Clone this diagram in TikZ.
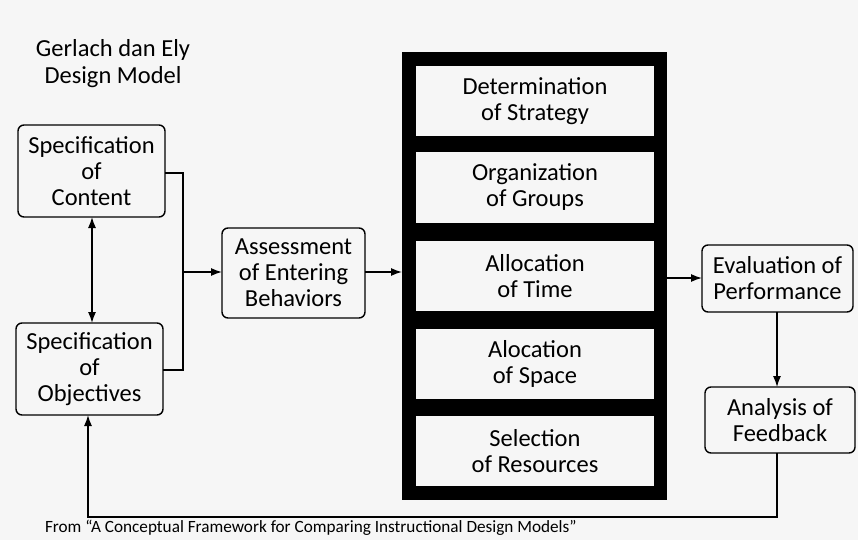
\documentclass[tikz,border=0pt]{standalone}
\usepackage{fontspec}
\setmainfont{Carlito}
\usetikzlibrary{arrows.meta}
\definecolor{paper}{RGB}{246,246,246}
\begin{document}
\begin{tikzpicture}[x=1pt,y=-1pt,
  every node/.style={inner sep=0pt,outer sep=0pt},
  txt/.style={font=\fontsize{24.5}{26}\selectfont,align=center,text=black},
  rbox/.style={txt,draw,line width=1.4pt,rounded corners=6pt,fill=paper},
  ibox/.style={txt,draw,line width=1.2pt,fill=paper,minimum width=240pt,minimum height=72pt},
  conn/.style={line width=1.3pt},
  arr/.style={conn,-{Latex[length=11pt,width=8pt]}},
  darr/.style={conn,{Latex[length=11pt,width=8pt]}-{Latex[length=11pt,width=8pt]}}]
\fill[paper] (0,0) rectangle (858,540);
\useasboundingbox (0,0) rectangle (858,540);
\node[txt,font=\fontsize{24.5}{27}\selectfont] (title) at (113,64) {Gerlach dan Ely\\Design Model};
\node[rbox,minimum width=147pt,minimum height=92pt] (content) at (91.5,171) {Specification\\of\\Content};
\node[rbox,minimum width=147pt,minimum height=92pt] (objectives) at (89.5,369) {Specification\\of\\Objectives};
\node[rbox,minimum width=143pt,minimum height=90pt] (assess) at (293.5,273) {Assessment\\of Entering\\Behaviors};
\node[fill=black,minimum width=265pt,minimum height=448pt] (frame) at (534.5,276) {};
\node[ibox] (strategy) at (535,101) {Determination\\of Strategy};
\node[ibox] (groups) at (535,187.5) {Organization\\of Groups};
\node[ibox] (time) at (535,276) {Allocation\\of Time};
\node[ibox] (space) at (535,364) {Alocation\\of Space};
\node[ibox] (resources) at (535,451) {Selection\\of Resources};
\node[rbox,minimum width=151pt,minimum height=67pt] (eval) at (777.5,278.5) {Evaluation of\\Performance};
\node[rbox,minimum width=150pt,minimum height=66pt] (analysis) at (780,420) {Analysis of\\Feedback};
\node[font=\fontsize{17.2}{20}\selectfont,anchor=west,text=black] (source) at (45,528) {From “A Conceptual Framework for Comparing Instructional Design Models”};
% connectors
\coordinate (bx) at (183,272);
\draw[conn] (content.east |- 0,173) -| (bx) |- (objectives.east |- 0,370);
\draw[arr] (bx) -- (assess.west |- bx);
\draw[darr] (content.south -| 92,0) -- (objectives.north -| 92,0);
\draw[arr] (assess.east |- 0,272) -- (frame.west |- 0,272);
\draw[arr] (frame.east |- 0,278) -- (eval.west |- 0,278);
\draw[arr] (eval.south -| 777,0) -- (analysis.north -| 777,0);
\coordinate (fb) at (88,517);
\draw[arr] (analysis.south -| 777,0) |- (fb) -- (objectives.south -| fb);
\end{tikzpicture}
\end{document}
